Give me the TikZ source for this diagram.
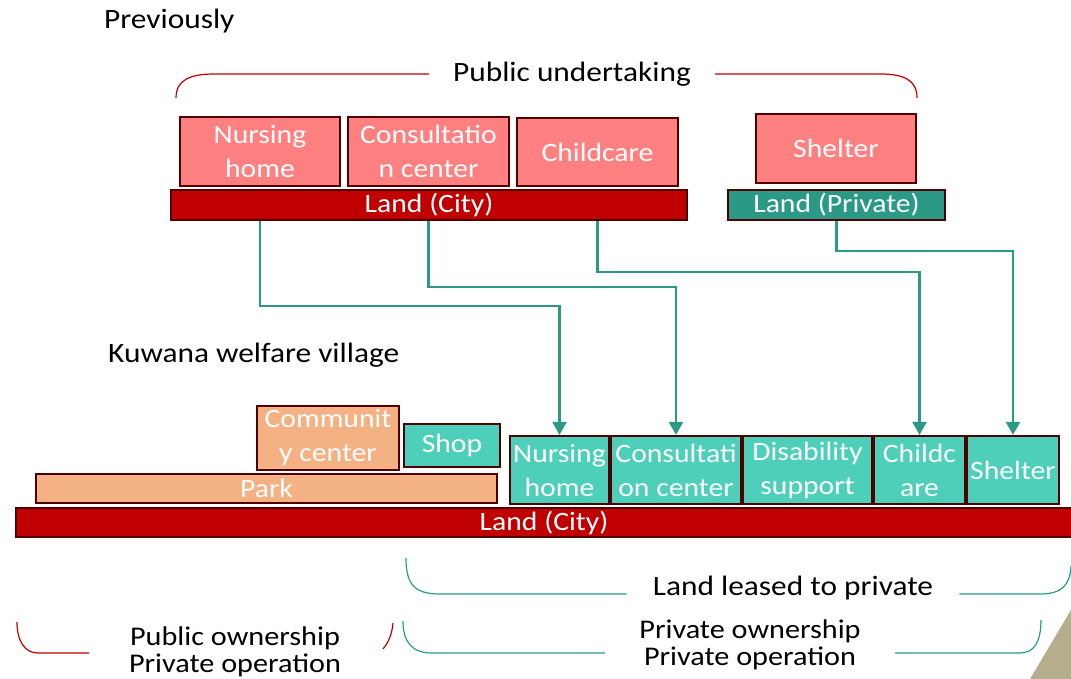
\documentclass[tikz,border=0pt]{standalone}
\usepackage{fontspec}
\setmainfont{Carlito}[FakeStretch=1.12]
\usetikzlibrary{positioning,calc,arrows.meta}
\definecolor{edge}{HTML}{500000}
\definecolor{salmon}{HTML}{FF8080}
\definecolor{landred}{HTML}{C00000}
\definecolor{darkteal}{HTML}{2A9A87}
\definecolor{aqua}{HTML}{4ECFBA}
\definecolor{peach}{HTML}{F4B183}
\definecolor{tan}{HTML}{B6AD8C}
\tikzset{>={Triangle[width=14pt,length=13pt]}}
\tikzset{
  box/.style={draw=edge, line width=2.2pt, text=white, align=center, inner sep=0pt,
    font=\fontsize{26.5}{34}\selectfont},
  dims/.style 2 args={minimum width=#1pt, minimum height=#2pt},
  oldbox/.style={box, fill=salmon},
  newbox/.style={box, fill=aqua},
  parkbox/.style={box, fill=peach},
  cityland/.style={box, fill=landred},
  privland/.style={box, fill=darkteal},
  link/.style={darkteal, line width=2.2pt, ->},
  label/.style={font=\fontsize{28}{27}\selectfont, inner sep=0pt, align=center},
  twoline/.style={label, font=\fontsize{27}{27}\selectfont},
  redbrace/.style={landred, line width=1.2pt},
  tealbrace/.style={darkteal, line width=1.2pt}
}

\begin{document}
\begin{tikzpicture}[x=1pt,y=-1pt]
\useasboundingbox (0,0) rectangle (1071,679);
% previously
\node[label, anchor=west] (prev) at (104,21) {Previously};
\node[label, inner xsep=24pt] (pub) at (572,74) {Public undertaking};
\draw[redbrace] (pub.west) -- (214,74) .. controls (190,74) and (176,80) .. (176,98);
\draw[redbrace] (pub.east) -- (880,74) .. controls (904,74) and (917,80) .. (917,98);

\node[oldbox, dims={160}{69}] (nurseA) at (260,151.5) {Nursing\\home};
\node[oldbox, dims={161}{69}] (consA) at (428.5,151.5) {Consultatio\\n center};
\node[oldbox, dims={161}{68}] (childA) at (597.5,152) {Childcare};
\node[oldbox, dims={160}{69}] (shelterA) at (836,148.5) {Shelter};
\node[cityland, dims={516}{30}] (landA) at (429,205) {Land (City)};
\node[privland, dims={217}{30}] (landP) at (836.5,205) {Land (Private)};

% welfare village
\node[label, anchor=west] (village) at (108,355) {Kuwana welfare village};
\node[cityland, dims={1056}{29}] (landB) at (544,522.5) {Land (City)};
\node[parkbox, dims={461}{29}] (park) at (266.5,488.5) {Park};
\node[parkbox, dims={142}{64}] (comm) at (328,438) {Communit\\y center};
\node[newbox, dims={96}{43}] (shop) at (452,445.5) {Shop};
\node[newbox, dims={99}{68}] (nurseB) at (559.5,470) {Nursing\\home};
\node[newbox, dims={130}{68}] (consB) at (676,470) {Consultati\\on center};
\node[newbox, dims={129}{68}] (disB) at (807.5,470) {Disability\\support};
\node[newbox, dims={91}{68}] (childB) at (919.5,470) {Childc\\are};
\node[newbox, dims={92}{68}] (shelterB) at (1013,470) {Shelter};

% moves
\draw[link] (landA.south -| nurseA) -- ++(0,85) -| (nurseB.north);
\draw[link] (landA.south -| consA) -- ++(0,66) -| (consB.north);
\draw[link] (landA.south -| childA) -- ++(0,51) -| (childB.north);
\draw[link] (landP.south) -- ++(0,30) -| (shelterB.north);

% ownership
\node[label, inner xsep=26pt] (lease) at (793,588) {Land leased to private};
\draw[tealbrace] ([yshift=-6pt]lease.west) -- (440,594) .. controls (415,594) and (406,585) .. (406,558);
\draw[tealbrace] ([yshift=-6pt]lease.east) -- (1040,594) .. controls (1062,594) and (1070,585) .. (1071,566);

\node[twoline] (pubown) at (235,652) {Public ownership\\Private operation};
\draw[redbrace] (89,653) -- (38,653) .. controls (24,653) and (17,640) .. (17,622);
\draw[redbrace] (393,623) .. controls (392,635) and (388,643) .. (383,649);

\node[twoline] (privown) at (750,645) {Private ownership\\Private operation};
\draw[tealbrace] (605,653) -- (432,653) .. controls (412,653) and (403,642) .. (403,621);
\draw[tealbrace] (895,653) -- (1020,653) .. controls (1034,653) and (1041,642) .. (1041,620);

\fill[tan] (1071,610) -- (1030,679) -- (1071,679) -- cycle;
\end{tikzpicture}
\end{document}
